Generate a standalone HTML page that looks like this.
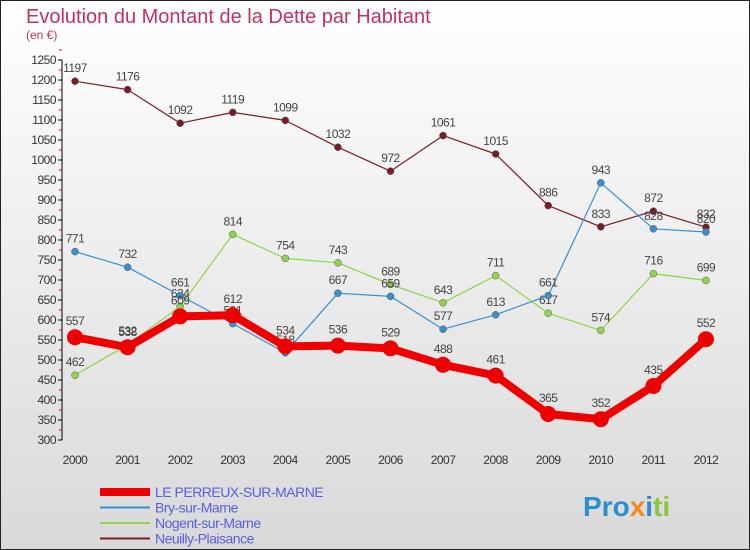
<!DOCTYPE html>
<html><head><meta charset="utf-8"><style>
body{margin:0}
#c{width:750px;height:550px;position:relative;overflow:hidden;font-family:"Liberation Sans",sans-serif;background:linear-gradient(#ffffff,#d9d9d9);}
</style></head><body>
<div id="c">
<svg id="s" width="750" height="550" xmlns="http://www.w3.org/2000/svg">
<rect x="0.5" y="0.5" width="749" height="549" fill="none" stroke="#222"/>
<text x="26" y="23" font-size="20" fill="#c0306a">Evolution du Montant de la Dette par Habitant</text>
<text x="26" y="39" font-size="12" fill="#c0306a">(en €)</text>
<g id="axes"></g><g id="marks"></g>
<g id="legend"></g>
<text x="583" y="516" font-size="28" font-weight="bold"><tspan fill="#2a8fd0">Pro</tspan><tspan fill="#f08a1c">x</tspan><tspan fill="#2a8fd0">i</tspan><tspan fill="#8cc63f">ti</tspan></text>
</svg>
</div>
<script>
const years=[2000,2001,2002,2003,2004,2005,2006,2007,2008,2009,2010,2011,2012];
const perreux=[557,532,609,612,534,536,529,488,461,365,352,435,552];
const bry=[771,732,661,591,518,667,659,577,613,661,943,828,820];
const nogent=[462,538,634,814,754,743,689,643,711,617,574,716,699];
const neuilly=[1197,1176,1092,1119,1099,1032,972,1061,1015,886,833,872,832];
const yTicks=[300,350,400,450,500,550,600,650,700,750,800,850,900,950,1000,1050,1100,1150,1200,1250];
const NS='http://www.w3.org/2000/svg';
const X=i=>75+i*52.58, Y=v=>440-(v-300)*0.4;
function mk(t,a,p){const e=document.createElementNS(NS,t);for(const k in a)e.setAttribute(k,a[k]);p.appendChild(e);return e;}
const ax=document.getElementById('axes'),mg=document.getElementById('marks'),lg=document.getElementById('legend');
let l=mk('line',{x1:62,y1:60,x2:62,y2:440,stroke:'#000'},ax);


yTicks.forEach(v=>{
 mk('line',{x1:58,y1:Y(v),x2:62,y2:Y(v),stroke:'#000'},ax);
 mk('line',{x1:59,y1:Y(v+25),x2:62,y2:Y(v+25),stroke:'#e00'},ax);
 const t=mk('text',{x:56,y:Y(v)+4,'font-size':12,'text-anchor':'end',fill:'#333','letter-spacing':'-0.5'},ax);
 t.textContent=v;
 
 
});
years.forEach((yr,i)=>{
 const t=mk('text',{x:X(i),y:464,'font-size':12,'text-anchor':'middle',fill:'#333','letter-spacing':'-0.5'},ax);
 t.textContent=yr;
 
 
});
const series=[
 {d:neuilly,c:'#7a1c24',w:1.2,r:3.5,n:'neuilly'},
 {d:nogent,c:'#8fd44a',w:1.2,r:3.5,n:'nogent'},
 {d:bry,c:'#3a8fcf',w:1.2,r:3.5,n:'bry'},
 {d:perreux,c:'#ee0000',w:8,r:8,n:'perreux'}];
series.forEach(s=>{
 const p=mk('polyline',{points:s.d.map((v,i)=>X(i)+','+Y(v)).join(' '),fill:'none',stroke:s.c,'stroke-width':s.w,'stroke-linejoin':'round'},mg);
 
 
 s.d.forEach((v,i)=>{
  const c=mk('circle',{cx:X(i),cy:Y(v),r:s.r,fill:s.c,stroke:s.w>2?'none':'#555','stroke-width':0.5},mg);
  
  
  const t=mk('text',{x:X(i),y:Y(v)-(s.w>2?12:9),'font-size':12,'text-anchor':'middle',fill:'#444','letter-spacing':'-0.5'},mg);
  t.textContent=v;
  
  
 });
});
const leg=[['LE PERREUX-SUR-MARNE','#ee0000',8],['Bry-sur-Marne','#3a8fcf',2],['Nogent-sur-Marne','#8fd44a',2],['Neuilly-Plaisance','#7a1c24',2]];
leg.forEach((e,i)=>{
 const y=492+i*15.5;
 const ln=mk('line',{x1:100,y1:y,x2:150,y2:y,stroke:e[1],'stroke-width':e[2]},lg);
 
 
 const t=mk('text',{x:155,y:y+5,'font-size':14,fill:'#5560e0','letter-spacing':'-0.5'},lg);
 t.textContent=e[0];
 
 
});
</script>
</body></html>
